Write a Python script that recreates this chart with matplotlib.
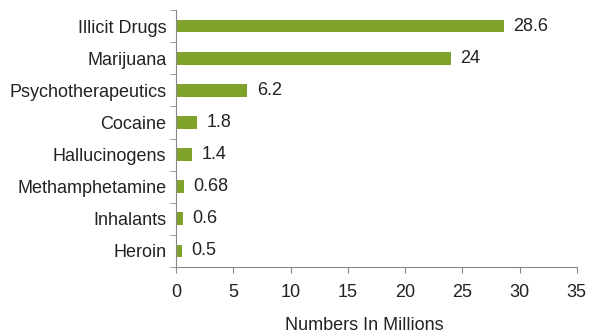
import numpy as np
import matplotlib.pyplot as plt

plt.rcParams['font.family'] = ['Liberation Sans', 'DejaVu Sans']

categories = ['Illicit Drugs', 'Marijuana', 'Psychotherapeutics', 'Cocaine',
              'Hallucinogens', 'Methamphetamine', 'Inhalants', 'Heroin']
values = [28.6, 24, 6.2, 1.8, 1.4, 0.68, 0.6, 0.5]
labels = ['28.6', '24', '6.2', '1.8', '1.4', '0.68', '0.6', '0.5']

fig = plt.figure(figsize=(5.91, 3.33), dpi=100)
ax = fig.add_axes([0.298, 0.198, 0.678, 0.772])

y = np.arange(len(categories))[::-1]
ax.barh(y, values, height=0.4, color='#7fa32a')
for yi, v, lab in zip(y, values, labels):
    ax.text(v + 0.85, yi, lab, va='center', ha='left', fontsize=13, color='#222222')

ax.set_xlim(0, 35)
ax.set_ylim(-0.5, len(categories) - 0.5)
ax.set_xticks(range(0, 36, 5))
ax.set_yticks(y)
ax.set_yticklabels(categories)
ax.set_yticks(np.arange(-0.5, len(categories), 1), minor=True)
ax.tick_params(axis='y', which='major', length=0, pad=7, labelsize=13, labelcolor='#222222')
ax.tick_params(axis='y', which='minor', length=4, color='#888888')
ax.tick_params(axis='x', length=4, color='#888888', labelsize=13, labelcolor='#222222', pad=8)

for s in ['top', 'right']:
    ax.spines[s].set_visible(False)
for s in ['left', 'bottom']:
    ax.spines[s].set_color('#888888')

ax.set_xlabel('Numbers In Millions', fontsize=13, color='#222222', labelpad=9)
ax.xaxis.set_label_coords(0.47, -0.195)

fig.savefig('out.png', dpi=100)
